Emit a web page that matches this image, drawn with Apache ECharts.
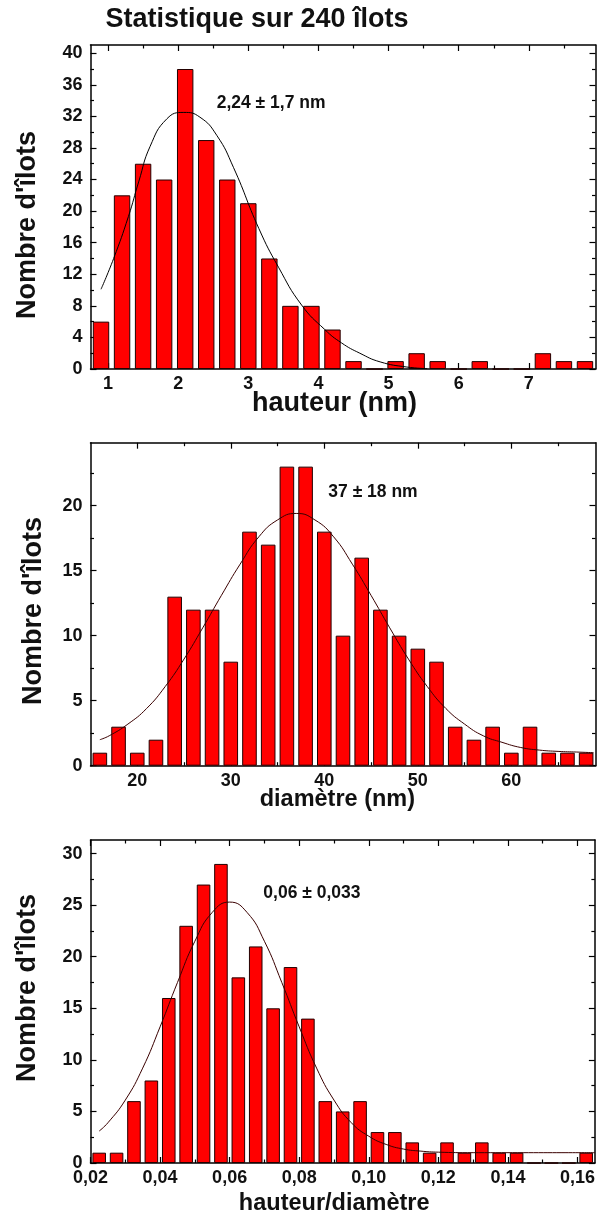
<!DOCTYPE html>
<html>
<head>
<meta charset="utf-8">
<title>Statistique sur 240 îlots</title>
<script src="https://cdn.jsdelivr.net/npm/echarts@6.0.0/dist/echarts.min.js"></script>
<style>
  html, body { margin: 0; padding: 0; background: #fff; }
  #chart { width: 598px; height: 1218px; }
</style>
</head>
<body>
<div id="chart"></div>
<script>
// histogram counts, one value per bin
const hauteurCounts = [6, 22, 26, 24, 38, 29, 24, 21, 14, 8, 8, 5, 1, 0, 1, 2, 1, 0, 1, 0, 0, 2, 1, 1]
const diametreCounts = [1, 3, 1, 2, 13, 12, 12, 8, 18, 17, 23, 23, 18, 10, 16, 12, 10, 9, 8, 3, 2, 3, 1, 3, 1, 1, 1]
const ratioCounts = [1, 1, 6, 8, 16, 23, 27, 29, 18, 21, 15, 19, 14, 6, 5, 6, 3, 3, 2, 1, 2, 1, 2, 1, 1, 0, 0, 0, 1]

// fitted curves, [x, count] points
const hauteurFit = [[0.9, 10.1], [1.08, 14.0], [1.29, 19.3], [1.44, 23.8], [1.6, 28.2], [1.84, 31.7], [2.08, 32.5],
  [2.31, 31.9], [2.55, 29.6], [2.79, 25.5], [3.15, 17.8], [3.43, 12.9], [3.76, 8.1], [4.09, 5.0], [4.33, 3.3],
  [4.59, 2.0], [4.88, 0.9], [5.26, 0.25], [5.55, 0.05]]
const diametreFit = [[16, 2.0], [17, 2.3], [19, 3.2], [21, 4.4], [23, 6.1], [25, 8.2], [27, 10.6], [29, 13.1],
  [31, 15.5], [33, 17.6], [35, 18.9], [37, 19.4], [39, 18.9], [41, 17.6], [43, 15.5], [45, 13.1], [47, 10.6],
  [49, 8.2], [51, 6.1], [53, 4.4], [55, 3.2], [57, 2.3], [59, 1.8], [61, 1.4], [63, 1.2], [65, 1.1], [67, 1.05], [68.8, 1.0]]
const ratioFit = [[0.0225, 3.1], [0.025, 3.9], [0.03, 6.1], [0.035, 9.2], [0.04, 13.2], [0.045, 17.5], [0.05, 21.5],
  [0.055, 24.3], [0.06, 25.3], [0.065, 24.3], [0.07, 21.5], [0.075, 17.5], [0.08, 13.2], [0.085, 9.2], [0.09, 6.1],
  [0.095, 3.9], [0.1, 2.6], [0.105, 1.8], [0.11, 1.35], [0.115, 1.15], [0.12, 1.05], [0.13, 1.0], [0.165, 1.0]]

// axis extents
const hauteurRange = [0.75, 7.95]
const diametreRange = [15, 69]
const ratioRange = [0.02, 0.165]
const hauteurYMax = 41.04
const diametreYMax = 24.84
const ratioYMax = 31.32

// tick labels (major) and minor tick positions
const hauteurXLabels = [1, 2, 3, 4, 5, 6, 7]
const hauteurXMinor = [1.5, 2.5, 3.5, 4.5, 5.5, 6.5, 7.5]
const hauteurYLabels = [0, 4, 8, 12, 16, 20, 24, 28, 32, 36, 40]
const hauteurYMinor = [2, 6, 10, 14, 18, 22, 26, 30, 34, 38]
const diametreXLabels = [20, 30, 40, 50, 60]
const diametreXMinor = [25, 35, 45, 55, 65]
const diametreYLabels = [0, 5, 10, 15, 20]
const diametreYMinor = [2.5, 7.5, 12.5, 17.5, 22.5]
const ratioXLabels = [0.02, 0.04, 0.06, 0.08, 0.10, 0.12, 0.14, 0.16]
const ratioXMinor = [0.03, 0.05, 0.07, 0.09, 0.11, 0.13, 0.15]
const ratioYLabels = [0, 5, 10, 15, 20, 25, 30]
const ratioYMinor = [2.5, 7.5, 12.5, 17.5, 22.5, 27.5]

const font = 'Liberation Sans, Arial, Helvetica, sans-serif'
const ink = '#111'

const chart = echarts.init(document.getElementById('chart'))

const xAxes = []
const yAxes = []
const series = []

// one axis drawing a set of ticks (and optionally labels) on one side of a panel
function tickAxis (base, position, values, len, withLine, labelFmt) {
  return Object.assign({}, base, {
    position: position,
    axisLine: { show: withLine, onZero: false, lineStyle: { color: '#000', width: 1.5 } },
    axisTick: { show: true, inside: true, length: len, customValues: values, lineStyle: { color: '#000', width: 1.2 } },
    axisLabel: labelFmt ? {
      show: true,
      customValues: values,
      formatter: labelFmt,
      margin: (position === 'left' || position === 'right') ? 8 : 6,
      color: ink,
      fontSize: 18,
      fontWeight: 'bold',
      fontFamily: font
    } : { show: false },
    splitLine: { show: false },
    minorTick: { show: false }
  })
}

function addPanel (g, counts, fit, xRange, yMax, xMajor, xMinor, yMajor, yMinor, fmt, lineColor) {
  const catIndex = xAxes.length
  xAxes.push({ type: 'category', gridIndex: g, show: false, data: counts.map((c, i) => i) })
  const xBase = { type: 'value', gridIndex: g, min: xRange[0], max: xRange[1] }
  const valIndex = xAxes.length
  xAxes.push(tickAxis(xBase, 'bottom', xMajor, 6, true, fmt))
  xAxes.push(tickAxis(xBase, 'bottom', xMinor, 3.5, false))
  xAxes.push(tickAxis(xBase, 'top', xMajor, 6, true))
  xAxes.push(tickAxis(xBase, 'top', xMinor, 3.5, false))

  const yBase = { type: 'value', gridIndex: g, min: 0, max: yMax }
  const yIndex = yAxes.length
  yAxes.push(tickAxis(yBase, 'left', yMajor, 6, true, v => String(v)))
  yAxes.push(tickAxis(yBase, 'left', yMinor, 3.5, false))
  yAxes.push(tickAxis(yBase, 'right', yMajor, 6, true))
  yAxes.push(tickAxis(yBase, 'right', yMinor, 3.5, false))

  series.push({
    type: 'bar',
    xAxisIndex: catIndex,
    yAxisIndex: yIndex,
    data: counts,
    barCategoryGap: '22%',
    itemStyle: { color: '#ff0000', borderColor: '#220000', borderWidth: 1 },
    silent: true
  })
  series.push({
    type: 'line',
    xAxisIndex: valIndex,
    yAxisIndex: yIndex,
    data: fit,
    smooth: true,
    showSymbol: false,
    lineStyle: { color: lineColor, width: 1 },
    silent: true,
    z: 3
  })
}

addPanel(0, hauteurCounts, hauteurFit, hauteurRange, hauteurYMax, hauteurXLabels, hauteurXMinor,
  hauteurYLabels, hauteurYMinor, v => String(v), '#000')
addPanel(1, diametreCounts, diametreFit, diametreRange, diametreYMax, diametreXLabels, diametreXMinor,
  diametreYLabels, diametreYMinor, v => String(v), '#3a0000')
addPanel(2, ratioCounts, ratioFit, ratioRange, ratioYMax, ratioXLabels, ratioXMinor,
  ratioYLabels, ratioYMinor, v => v.toFixed(2).replace('.', ','), '#3a0000')

function label (x, y, text, size, align, rotate) {
  return {
    type: 'text',
    x: x,
    y: y,
    rotation: rotate ? Math.PI / 2 : 0,
    style: {
      text: text,
      fill: ink,
      font: 'bold ' + size + 'px ' + font,
      textAlign: align,
      textVerticalAlign: 'middle'
    }
  }
}

const option = {
  animation: false,
  backgroundColor: '#fff',
  grid: [
    { left: 90.5, width: 505, top: 45, height: 324 },
    { left: 90.5, width: 505, top: 442.7, height: 323 },
    { left: 90.5, width: 505, top: 840, height: 323 }
  ],
  xAxis: xAxes,
  yAxis: yAxes,
  series: series,
  graphic: [
    label(257, 20, 'Statistique sur 240 îlots', 27, 'center'),
    label(28, 225, 'Nombre d\'îlots', 27, 'center', true),
    label(34, 611, 'Nombre d\'îlots', 27, 'center', true),
    label(28, 988, 'Nombre d\'îlots', 27, 'center', true),
    label(334.5, 404, 'hauteur (nm)', 27, 'center'),
    label(337.4, 800, 'diamètre (nm)', 23.5, 'center'),
    label(334.2, 1204, 'hauteur/diamètre', 23.5, 'center'),
    label(216.7, 103, '2,24 ± 1,7 nm', 17.5, 'left'),
    label(328.3, 491.7, '37 ± 18 nm', 17.5, 'left'),
    label(263.3, 893, '0,06 ± 0,033', 17.5, 'left')
  ]
}

chart.setOption(option)
</script>
</body>
</html>
